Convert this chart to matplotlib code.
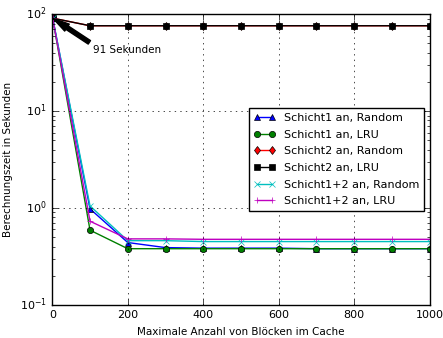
import matplotlib
matplotlib.use("Agg")
import matplotlib.pyplot as plt

plt.style.use("classic")

blocks = [1, 100, 200, 300, 400, 500, 600, 700, 800, 900, 1000]

s1_random = [91, 0.98, 0.44, 0.39, 0.385, 0.385, 0.385, 0.38, 0.38, 0.38, 0.38]
s1_lru = [91, 0.59, 0.38, 0.38, 0.38, 0.38, 0.38, 0.38, 0.38, 0.38, 0.38]
s2_random = [91, 76, 76, 76, 76, 76, 76, 76, 76, 76, 76]
s2_lru = [91, 76, 76, 76, 76, 76, 76, 76, 76, 76, 76]
s12_random = [91, 1.05, 0.46, 0.46, 0.45, 0.45, 0.45, 0.45, 0.45, 0.45, 0.45]
s12_lru = [91, 0.73, 0.48, 0.48, 0.475, 0.475, 0.475, 0.475, 0.475, 0.475, 0.475]

fs = 7.5
ms = 4.5

fig, ax = plt.subplots(figsize=(4.43, 3.38), dpi=100)
fig.patch.set_facecolor("white")
plt.subplots_adjust(left=0.118, right=0.97, top=0.958, bottom=0.098)

ax.plot(blocks, s1_random, "b^-", label="Schicht1 an, Random", markersize=ms)
ax.plot(blocks, s1_lru, "go-", label="Schicht1 an, LRU", markersize=ms)
ax.plot(blocks, s2_random, "rd-", label="Schicht2 an, Random", markersize=ms)
ax.plot(blocks, s2_lru, "ks-", label="Schicht2 an, LRU", markersize=ms)
ax.plot(blocks, s12_random, "cx-", label="Schicht1+2 an, Random", markersize=ms)
ax.plot(blocks, s12_lru, "m+-", label="Schicht1+2 an, LRU", markersize=ms)

ax.set_yscale("log")
ax.set_xlim(0, 1000)
ax.set_ylim(0.1, 100)
ax.grid(True)

ax.annotate("91 Sekunden", xy=(1, 91), xytext=(108, 40),
            arrowprops=dict(facecolor="black", shrink=0.01, width=3, headwidth=6),
            fontsize=fs)

ax.set_xlabel("Maximale Anzahl von Blöcken im Cache", fontsize=fs)
ax.set_ylabel("Berechnungszeit in Sekunden", fontsize=fs)
ax.tick_params(labelsize=fs + 0.5)
ax.legend(loc="center right", fontsize=fs + 0.5, numpoints=2, labelspacing=0.6)

fig.savefig("out.png", dpi=100, facecolor="white")
